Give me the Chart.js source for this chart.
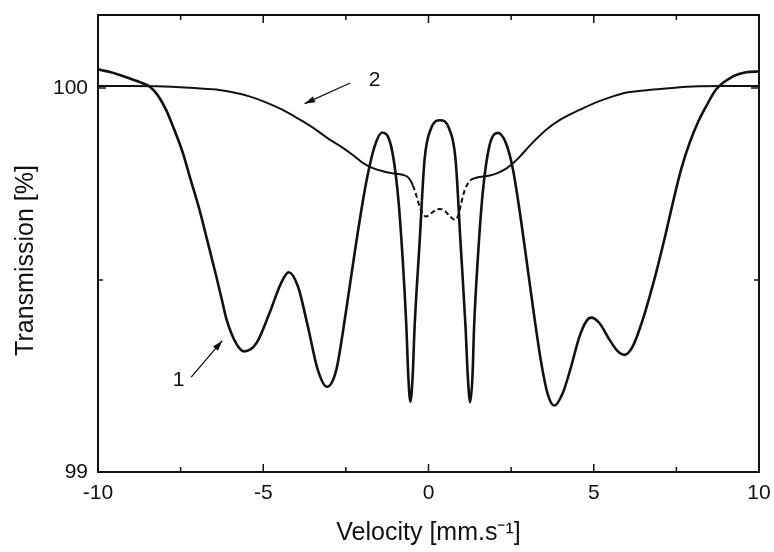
<!DOCTYPE html>
<html>
<head>
<meta charset="utf-8">
<script src="https://cdn.jsdelivr.net/npm/chart.js@4.4.0/dist/chart.umd.min.js"></script>
<style>
  body { margin: 0; background: #fff; }
  #wrap { width: 774px; height: 552px; }
</style>
</head>
<body>
<div id="wrap"><canvas id="c" width="774" height="552"></canvas></div>
<script>
// curve 1 (velocity, transmission)
const vel1 = [-10, -9.61, -9.21, -8.7, -8.44, -8.2, -7.94, -7.7, -7.43, -7.2, -6.93, -6.7, -6.42, -6.25, -6.12, -5.82, -5.57,
  -5.21, -4.81, -4.46, -4.23, -3.95, -3.65, -3.35, -3.07, -2.79, -2.49, -2.19, -1.89, -1.63, -1.40,
  -1.13, -0.93, -0.78, -0.67, -0.61, -0.55, -0.48, -0.42, -0.27, -0.12, 0.08, 0.35,
  0.62, 0.82, 0.97, 1.12, 1.19, 1.26, 1.33, 1.38, 1.49, 1.64, 1.84, 2.10,
  2.35, 2.55, 2.8, 3.0, 3.2, 3.4, 3.6, 3.81, 4.06, 4.3, 4.57, 4.77, 4.92, 5.17, 5.48, 5.73, 5.93,
  6.18, 6.48, 6.69, 6.89, 7.19, 7.39, 7.65, 7.9, 8.15, 8.4, 8.7, 9.21, 9.61, 10];
const trans1 = [100.048, 100.041, 100.03, 100.014, 100.004, 99.982, 99.943, 99.893, 99.83, 99.762, 99.683, 99.605, 99.509, 99.448, 99.40, 99.335, 99.314,
  99.335, 99.414, 99.492, 99.52, 99.483, 99.379, 99.266, 99.222, 99.266, 99.422, 99.596, 99.752, 99.848, 99.884,
  99.848, 99.726, 99.553, 99.379, 99.248, 99.183, 99.248, 99.379, 99.596, 99.813, 99.895, 99.916,
  99.895, 99.813, 99.596, 99.379, 99.248, 99.182, 99.248, 99.379, 99.553, 99.726, 99.848, 99.883,
  99.855, 99.79, 99.655, 99.53, 99.405, 99.29, 99.205, 99.173, 99.205, 99.27, 99.353, 99.392, 99.402, 99.388, 99.344, 99.314, 99.305,
  99.327, 99.396, 99.457, 99.52, 99.625, 99.70, 99.79, 99.857, 99.91, 99.952, 99.996, 100.03, 100.041, 100.043];

// curve 2
const vel2 = [-10, -9, -8, -7.5, -7, -6.42, -6, -5.42, -4.9, -4.41, -3.9, -3.4, -3.0, -2.59, -2.3, -1.99, -1.7, -1.38, -1.1, -0.78,
  -0.6, -0.47, -0.35, -0.27, -0.15, -0.07, 0.1, 0.23, 0.35, 0.5, 0.65, 0.79, 0.9, 0.99, 1.1, 1.25, 1.39, 1.85, 2.1, 2.35, 2.55, 2.75, 3.1, 3.56, 4.0,
  4.57, 5.0, 5.58, 6.0, 6.59, 7.1, 7.6, 8, 9, 10];
const trans2 = [100.005, 100.005, 100.004, 100.002, 99.999, 99.996, 99.99, 99.978, 99.962, 99.943, 99.918, 99.891, 99.866, 99.844, 99.826, 99.805, 99.792, 99.783, 99.778, 99.774,
  99.766, 99.746, 99.715, 99.691, 99.670, 99.665, 99.675, 99.683, 99.685, 99.679, 99.666, 99.657, 99.668, 99.70, 99.735, 99.758, 99.765, 99.772, 99.779, 99.79, 99.803, 99.82, 99.853, 99.891, 99.918,
  99.943, 99.960, 99.978, 99.988, 99.994, 99.998, 100.002, 100.004, 100.005, 100.005];

const xTicks = [-10, -5, 0, 5, 10];
const xMinor = [-7.5, -2.5, 2.5, 7.5];
const yTicks = [99, 100];
const yMinor = [99.5];

// curve labels: [text, labelX, labelY, arrowFromX, arrowFromY, arrowToX, arrowToY]
const curveLabels = [
  ['1', -7.56, 99.240, -7.18, 99.247, -6.24, 99.342],
  ['2', -1.63, 100.019, -2.37, 100.013, -3.75, 99.959]
];

const FONT = 'Liberation Sans, Arial, sans-serif';
const INK = '#111';

const framePlugin = {
  id: 'frame',
  afterDraw(chart) {
    const { ctx, chartArea: a, scales: { x, y } } = chart;
    ctx.save();
    ctx.strokeStyle = INK;
    ctx.lineWidth = 1.5;
    const tickX = (v, len) => {
      const px = x.getPixelForValue(v);
      ctx.beginPath();
      ctx.moveTo(px, a.bottom); ctx.lineTo(px, a.bottom - len);
      ctx.moveTo(px, a.top); ctx.lineTo(px, a.top + len);
      ctx.stroke();
    };
    const tickY = (v, len) => {
      const py = y.getPixelForValue(v);
      ctx.beginPath();
      ctx.moveTo(a.left, py); ctx.lineTo(a.left + len, py);
      ctx.moveTo(a.right, py); ctx.lineTo(a.right - len, py);
      ctx.stroke();
    };
    xTicks.forEach(v => tickX(v, 8));
    xMinor.forEach(v => tickX(v, 5));
    yTicks.forEach(v => tickY(v, 8));
    yMinor.forEach(v => tickY(v, 5));
    ctx.lineWidth = 2;
    ctx.strokeRect(a.left, a.top, a.right - a.left, a.bottom - a.top);

    // y axis title, sits a bit below the plot centre in the original
    ctx.fillStyle = INK;
    ctx.font = '25px ' + FONT;
    ctx.textAlign = 'center';
    ctx.textBaseline = 'middle';
    ctx.save();
    ctx.translate(26, (a.top + a.bottom) / 2 + 17);
    ctx.rotate(-Math.PI / 2);
    ctx.fillText('Transmission [%]', 0, 0);
    ctx.restore();

    // curve labels with arrows
    ctx.font = '21px ' + FONT;
    ctx.lineWidth = 1.3;
    curveLabels.forEach(([t, lx, ly, fx, fy, tx, ty]) => {
      ctx.fillText(t, x.getPixelForValue(lx), y.getPixelForValue(ly));
      const x0 = x.getPixelForValue(fx), y0 = y.getPixelForValue(fy);
      const x1 = x.getPixelForValue(tx), y1 = y.getPixelForValue(ty);
      const ang = Math.atan2(y1 - y0, x1 - x0);
      ctx.beginPath();
      ctx.moveTo(x0, y0); ctx.lineTo(x1, y1);
      ctx.stroke();
      ctx.beginPath();
      ctx.moveTo(x1, y1);
      ctx.lineTo(x1 - 11 * Math.cos(ang - 0.3), y1 - 11 * Math.sin(ang - 0.3));
      ctx.lineTo(x1 - 11 * Math.cos(ang + 0.3), y1 - 11 * Math.sin(ang + 0.3));
      ctx.closePath();
      ctx.fill();
    });
    ctx.restore();
  }
};

new Chart(document.getElementById('c'), {
  type: 'line',
  data: {
    datasets: [{
      label: '1',
      data: vel1.map((v, i) => ({ x: v, y: trans1[i] })),
      borderColor: INK,
      borderWidth: 2.6,
      pointRadius: 0,
      cubicInterpolationMode: 'monotone'
    }, {
      label: '2',
      data: vel2.map((v, i) => ({ x: v, y: trans2[i] })),
      borderColor: INK,
      borderWidth: 2,
      pointRadius: 0,
      cubicInterpolationMode: 'monotone',
      segment: {
        borderDash: c => (c.p0.parsed.x >= -0.5 && c.p1.parsed.x <= 1.4) ? [5, 3] : undefined
      }
    }]
  },
  options: {
    responsive: false,
    animation: false,
    layout: { padding: { top: 15, right: 15, left: 0, bottom: 0 } },
    plugins: { legend: { display: false }, tooltip: { enabled: false } },
    scales: {
      x: {
        type: 'linear',
        min: -10, max: 10,
        afterBuildTicks: s => { s.ticks = xTicks.map(v => ({ value: v })); },
        afterFit: s => { s.height = 80; s.paddingLeft = 0; s.paddingRight = 0; },
        grid: { display: false, drawTicks: false },
        border: { display: false },
        ticks: { font: { family: FONT, size: 21 }, color: INK, padding: 9, maxRotation: 0, autoSkip: false },
        title: { display: true, text: 'Velocity [mm.s⁻¹]', color: INK, font: { family: FONT, size: 25 }, padding: { top: 4 } }
      },
      y: {
        min: 99, max: 100.19,
        afterBuildTicks: s => { s.ticks = yTicks.map(v => ({ value: v })); },
        afterFit: s => { s.width = 98; s.paddingTop = 0; s.paddingBottom = 0; },
        grid: { display: false, drawTicks: false },
        border: { display: false },
        ticks: { font: { family: FONT, size: 21 }, color: INK, padding: 10, autoSkip: false }
      }
    }
  },
  plugins: [framePlugin]
});
</script>
</body>
</html>
